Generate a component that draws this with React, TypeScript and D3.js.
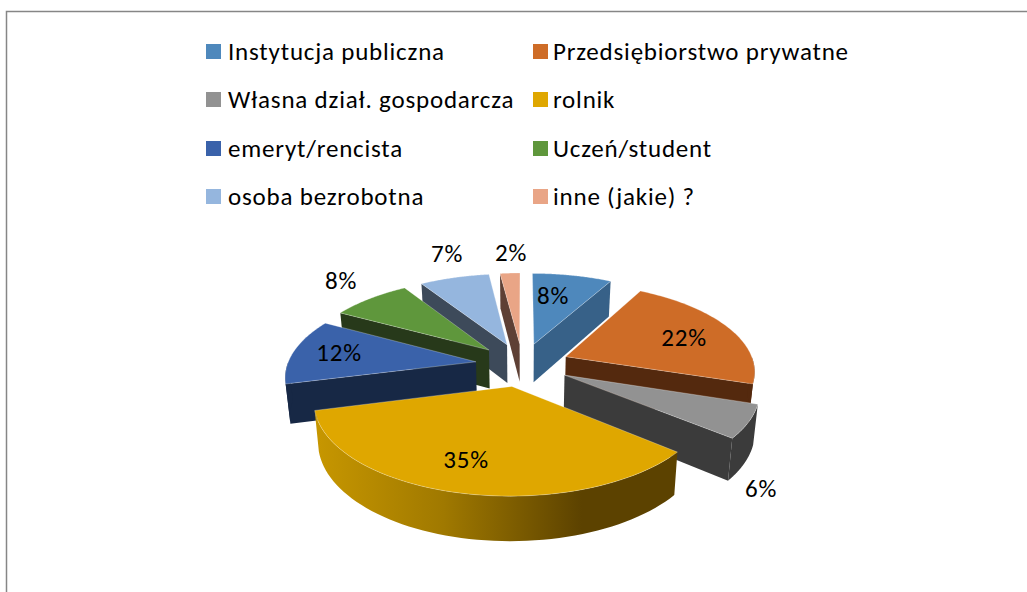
import React from "react";
import * as d3 from "d3";

// ---- data ----
const categories = [
  "Instytucja publiczna",
  "Przedsiębiorstwo prywatne",
  "Własna dział. gospodarcza",
  "rolnik",
  "emeryt/rencista",
  "Uczeń/student",
  "osoba bezrobotna",
  "inne (jakie) ?",
];
const shares = [8, 22, 6, 35, 12, 8, 7, 2];
const percentLabels = ["8%", "22%", "6%", "35%", "12%", "8%", "7%", "2%"];

// ---- styles ----
const topColors = ["#4E88BC", "#CE6C27", "#929292", "#DFA700", "#3A62AA", "#5F973C", "#95B6DE", "#E9A586"];
const wallColors = ["#376188", "#54290E", "#3B3B3B", "#5C4200", "#172845", "#27391A", "#3D4A5A", "#5E4035"];
const paintOrder = [7, 6, 5, 4, 0, 1, 2, 3];
const labelAnchors: [number, number][] = [
  [553, 295], [684, 337], [761, 488], [466, 459], [339, 352], [341, 280], [447, 253], [511, 252],
];
const legendSwatchX = [206, 533];
const legendTextX = [228, 553];
const legendRows = [44, 92, 141, 189];
const FONT = "Carlito, Calibri, Lato, sans-serif";

// ---- projection ----
const CX = 522.5, CY = 364.5, RX = 188.5, RY = 86.6;
const EXPLODE = 0.25, PERSPECTIVE = 0.146, DEPTH = 39, SHRINK = 0.98;
const sx = d3.scaleLinear().domain([-1, 1]).range([CX - RX, CX + RX]);
const sy = d3.scaleLinear().domain([-1, 1]).range([CY - RY, CY + RY]);

type P = [number, number];
const project = (u: number, v: number, low = false): P => {
  const w = 1 / (1 - PERSPECTIVE * v);
  const k = low ? SHRINK : 1;
  return [
    CX + (sx(u) - CX) * w * k,
    CY + (sy(v) - CY) * w * k + (low ? DEPTH * w : 0),
  ];
};

const arcs = d3.pie<number>().sort(null).startAngle(0).endAngle(2 * Math.PI)(shares);
const line = d3.line<P>();

const model = (mid: number, a: number, r: number): P => [
  EXPLODE * Math.sin(mid) + r * Math.sin(a),
  -EXPLODE * Math.cos(mid) - r * Math.cos(a),
];

const sweep = (a0: number, a1: number) =>
  d3.range(0, 61).map((i) => a0 + ((a1 - a0) * i) / 60);

function slicePaths(a0: number, a1: number) {
  const mid = (a0 + a1) / 2;
  const apex = model(mid, a0, 0);
  const rim = sweep(a0, a1).map((a) => model(mid, a, 1));
  const up = (m: P) => project(m[0], m[1]);
  const lo = (m: P) => project(m[0], m[1], true);
  const top = line([up(apex), ...rim.map(up)]) + "Z";
  const wall = (a: number) => {
    const e = model(mid, a, 1);
    return line([up(apex), up(e), lo(e), lo(apex)]) + "Z";
  };
  // the part of the rim that faces the viewer
  const f0 = Math.max(a0, Math.PI / 2);
  const f1 = Math.min(a1, (3 * Math.PI) / 2);
  let rimPath: string | null = null;
  if (f1 > f0) {
    const front = sweep(f0, f1).map((a) => model(mid, a, 1));
    rimPath = line([...front.map(up), ...front.slice().reverse().map(lo)]) + "Z";
  }
  const walls: string[] = [];
  if (Math.sin(a0) < -1e-6) walls.push(wall(a0));
  if (Math.sin(a1) > 1e-6) walls.push(wall(a1));
  return { top, walls, rimPath };
}

export default function App() {
  const yellowArc = arcs[3];
  const yMid = (yellowArc.startAngle + yellowArc.endAngle) / 2;
  const gx0 = project(...model(yMid, yellowArc.endAngle, 1), true)[0];
  const gx1 = project(...model(yMid, yellowArc.startAngle, 1), true)[0];
  return (
    <svg
      width={1027}
      height={592}
      viewBox="0 0 1027 592"
      style={{ position: "absolute", left: 0, top: 0, background: "#fff" }}
    >
      <defs>
        <linearGradient id="rimGold" gradientUnits="userSpaceOnUse" x1={gx0} x2={gx1} y1={0} y2={0}>
          <stop offset="0" stopColor="#C69600" />
          <stop offset="0.35" stopColor="#A07900" />
          <stop offset="0.74" stopColor="#5C4200" />
          <stop offset="1" stopColor="#5C4200" />
        </linearGradient>
      </defs>
      <path d="M1027 11.5H6.5V592" fill="none" stroke="#868686" strokeWidth={1.5} />
      {categories.map((c, i) => {
        const col = i % 2;
        const row = legendRows[Math.floor(i / 2)];
        return (
          <g key={c}>
            <rect x={legendSwatchX[col]} y={row} width={15} height={15} fill={topColors[i]} />
            <text
              x={legendTextX[col]}
              y={row + 16}
              fontFamily={FONT}
              fontSize={25}
              letterSpacing={0.8}
              fill="#000"
            >
              {c}
            </text>
          </g>
        );
      })}
      {paintOrder.map((i) => {
        const d = arcs[i];
        const p = slicePaths(d.startAngle, d.endAngle);
        return (
          <g key={i}>
            {p.walls.map((w, j) => (
              <path key={j} d={w} fill={wallColors[i]} />
            ))}
            {p.rimPath && <path d={p.rimPath} fill={i === 3 ? "url(#rimGold)" : wallColors[i]} />}
            <path d={p.top} fill={topColors[i]} stroke="#fff" strokeOpacity={0.35} strokeWidth={0.8} />
          </g>
        );
      })}
      {percentLabels.map((t, i) => (
        <text
          key={i}
          x={labelAnchors[i][0]}
          y={labelAnchors[i][1]}
          textAnchor="middle"
          dominantBaseline="central"
          fontFamily={FONT}
          fontSize={25}
          letterSpacing={0.8}
          fill="#000"
        >
          {t}
        </text>
      ))}
    </svg>
  );
}
